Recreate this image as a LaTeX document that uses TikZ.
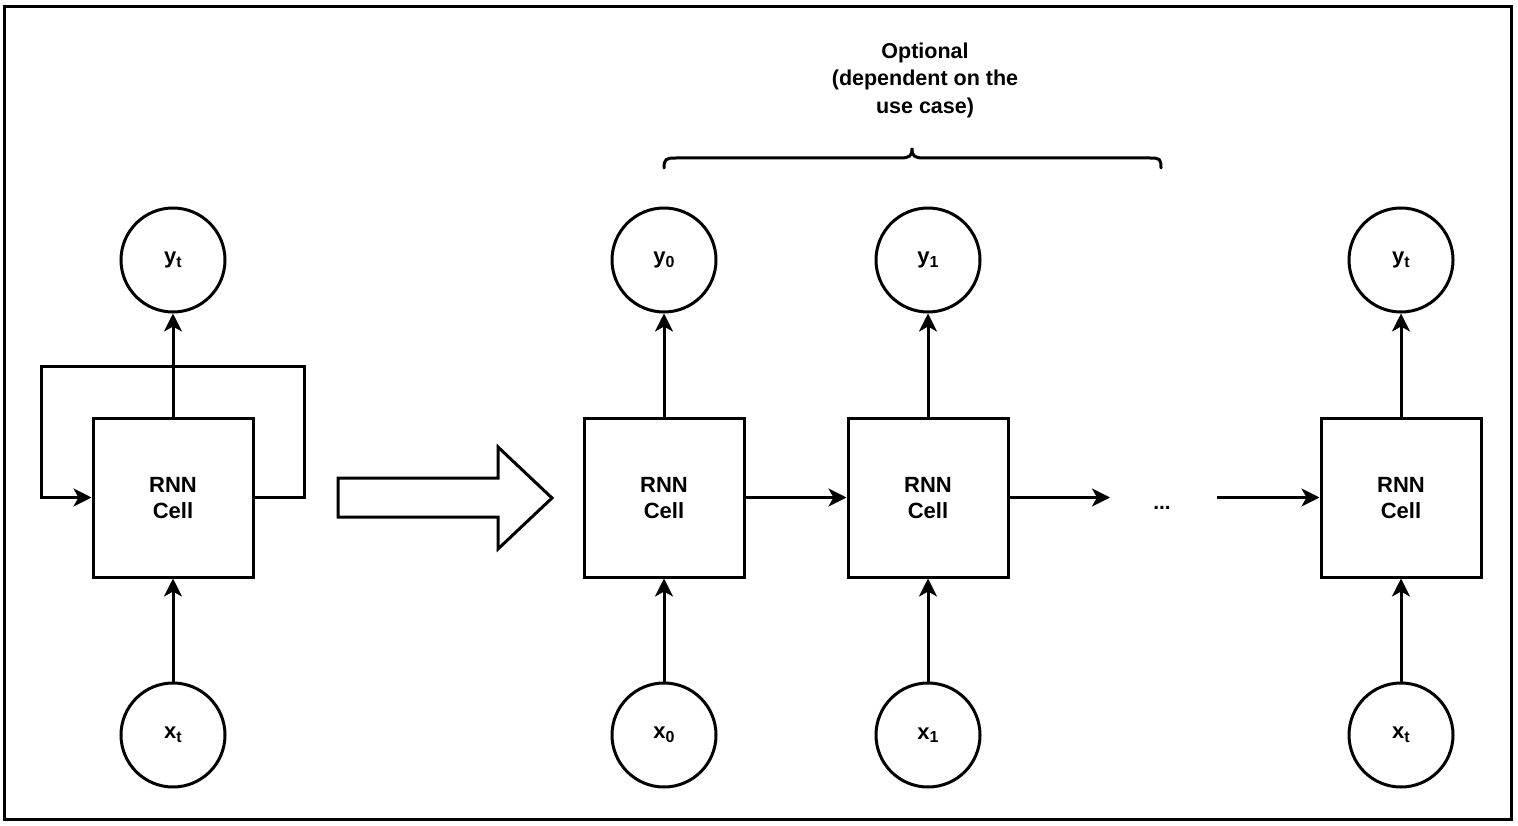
\documentclass[tikz,border=0pt]{standalone}
\usepackage{fontspec}
\setmainfont{Liberation Sans}
\usetikzlibrary{arrows.meta}
\newcommand{\mysub}[1]{\raisebox{-3.5pt}{\fontsize{16}{16}\selectfont #1}}
\begin{document}
\begin{tikzpicture}[x=1pt,y=-1pt,
  cell/.style={draw,line width=3pt,minimum width=160pt,minimum height=159pt,align=center,
    font=\bfseries\fontsize{22}{26}\selectfont,inner sep=0pt,text depth=-3pt},
  var/.style={draw,circle,line width=3pt,minimum size=104pt,inner sep=0pt,
    font=\bfseries\fontsize{22}{22}\selectfont},
  conn/.style={line width=3pt,-{Stealth[length=18pt,width=18pt,inset=5pt]}},
  plainline/.style={line width=3pt},
  label/.style={align=center,font=\bfseries\fontsize{21.5}{27.5}\selectfont}]
\useasboundingbox (0,0) rectangle (1518,826);
\draw[line width=3pt] (4.5,7) rectangle (1511,819);

% folded RNN
\node[cell] (c0) at (173,497.5) {RNN\\Cell};
\node[var] (y0f) at (173,260) {y\mysub{t}};
\node[var] (x0f) at (173,735) {x\mysub{t}};
\draw[conn] (c0.north) -- (y0f.south);
\draw[conn] (x0f.north) -- (c0.south);
\coordinate (loopR) at (304,366);
\coordinate (loopL) at (41,366);
\draw[conn] (c0.east) -| (loopR) -- (loopL) |- (c0.west);

% hollow arrow
\draw[plainline,line join=miter] (338,478) -- (498,478) -- (498,447) -- (552,498) -- (498,549) -- (498,517) -- (338,517) -- cycle;

% unrolled RNN
\node[cell] (c1) at (664,497.5) {RNN\\Cell};
\node[cell] (c2) at (928,497.5) {RNN\\Cell};
\node[cell] (c3) at (1401,497.5) {RNN\\Cell};
\node[var] (y1) at (664,260) {y\mysub{0}};
\node[var] (y2) at (928,260) {y\mysub{1}};
\node[var] (y3) at (1401,260) {y\mysub{t}};
\node[var] (x1) at (664,735) {x\mysub{0}};
\node[var] (x2) at (928,735) {x\mysub{1}};
\node[var] (x3) at (1401,735) {x\mysub{t}};
\foreach \i in {1,2,3} {
  \draw[conn] (c\i.north) -- (y\i.south);
  \draw[conn] (x\i.north) -- (c\i.south);
}
\draw[conn] (c1.east) -- (c2.west);
\coordinate (e1) at (1110,497.5);
\coordinate (s2) at (1217,497.5);
\node[font=\bfseries\fontsize{21}{21}\selectfont] (dots) at (1162,508) {...};
\draw[conn] (c2.east) -- (e1);
\draw[conn] (s2) -- (c3.west);

% brace and label
\draw[plainline,line cap=round] (664,168) .. controls (664,159) and (666,158) .. (676,158) -- (900,158)
  .. controls (910,158) and (912,156) .. (912,148) .. controls (912,156) and (914,158) .. (924,158)
  -- (1150,158) .. controls (1160,158) and (1161,159) .. (1161,168);
\node[label] (opt) at (925,80) {Optional\\(dependent on the\\use case)};
\end{tikzpicture}
\end{document}
